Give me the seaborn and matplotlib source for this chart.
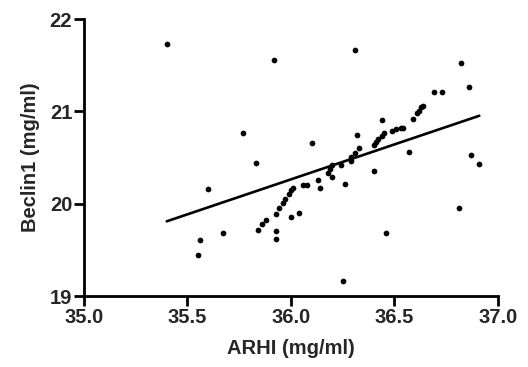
import numpy as np
import pandas as pd
import matplotlib
matplotlib.use("Agg")
import matplotlib.pyplot as plt
import seaborn as sns

# --- data ---
arhi = [35.40, 35.92, 35.77, 36.31, 36.82, 36.86, 36.69, 36.73, 36.10, 36.44,
        36.32, 36.57, 36.87, 36.91, 36.25, 36.46, 36.81, 36.40, 36.26, 36.13,
        36.14, 36.00, 36.04, 35.83, 35.60, 35.56, 35.55, 35.67, 35.84, 35.86,
        35.88, 35.93, 35.93, 35.93, 35.94, 35.96, 35.97, 35.99, 36.00, 36.01,
        36.06, 36.08, 36.18, 36.19, 36.20, 36.20, 36.24, 36.29, 36.29, 36.31,
        36.33, 36.40, 36.41, 36.42, 36.44, 36.45, 36.49, 36.51, 36.53, 36.54,
        36.59, 36.61, 36.62, 36.63, 36.64]
beclin1 = [21.73, 21.56, 20.77, 21.66, 21.52, 21.26, 21.21, 21.21, 20.66, 20.91,
           20.74, 20.56, 20.53, 20.43, 19.16, 19.68, 19.96, 20.35, 20.21, 20.26,
           20.17, 19.86, 19.90, 20.44, 20.16, 19.61, 19.45, 19.68, 19.72, 19.78,
           19.83, 19.71, 19.62, 19.89, 19.96, 20.01, 20.05, 20.11, 20.15, 20.17,
           20.20, 20.20, 20.33, 20.38, 20.42, 20.29, 20.42, 20.46, 20.51, 20.55,
           20.60, 20.64, 20.67, 20.70, 20.73, 20.77, 20.79, 20.81, 20.82, 20.82,
           20.92, 20.98, 21.01, 21.05, 21.06]

x_ticks = [35.0, 35.5, 36.0, 36.5, 37.0]
y_ticks = [19, 20, 21, 22]

df = pd.DataFrame({'ARHI': arhi, 'Beclin1': beclin1})

sns.set_style("ticks")
plt.rcParams['font.family'] = ['Liberation Sans', 'DejaVu Sans']
plt.rcParams['font.weight'] = 'bold'

fig = plt.figure(figsize=(5.28, 3.67), dpi=100)
ax = fig.add_axes([0.159, 0.193, 0.784, 0.755])

# scatter + least-squares line, no confidence band
sns.regplot(data=df, x='ARHI', y='Beclin1', ax=ax, ci=None, color='black',
            scatter_kws={'s': 17, 'linewidths': 0, 'alpha': 1},
            line_kws={'linewidth': 1.9})

ax.set_xlim(35.0, 37.0)
ax.set_ylim(19, 22)
ax.set_xticks(x_ticks)
ax.set_xticklabels([f'{t:.1f}' for t in x_ticks])
ax.set_yticks(y_ticks)
ax.set_yticklabels([str(t) for t in y_ticks])

for side in ['top', 'right']:
    ax.spines[side].set_visible(False)
for side in ['left', 'bottom']:
    ax.spines[side].set_linewidth(2.0)
    ax.spines[side].set_color('black')

ax.tick_params(axis='both', width=2.0, length=7, color='black',
               labelsize=14.5, pad=1.5)
for lbl in ax.get_xticklabels() + ax.get_yticklabels():
    lbl.set_fontweight('bold')

ax.set_xlabel('ARHI (mg/ml)', fontsize=14.5, fontweight='bold', labelpad=9)
ax.set_ylabel('Beclin1 (mg/ml)', fontsize=14.5, fontweight='bold', labelpad=7)

fig.savefig('out.png', dpi=100)
